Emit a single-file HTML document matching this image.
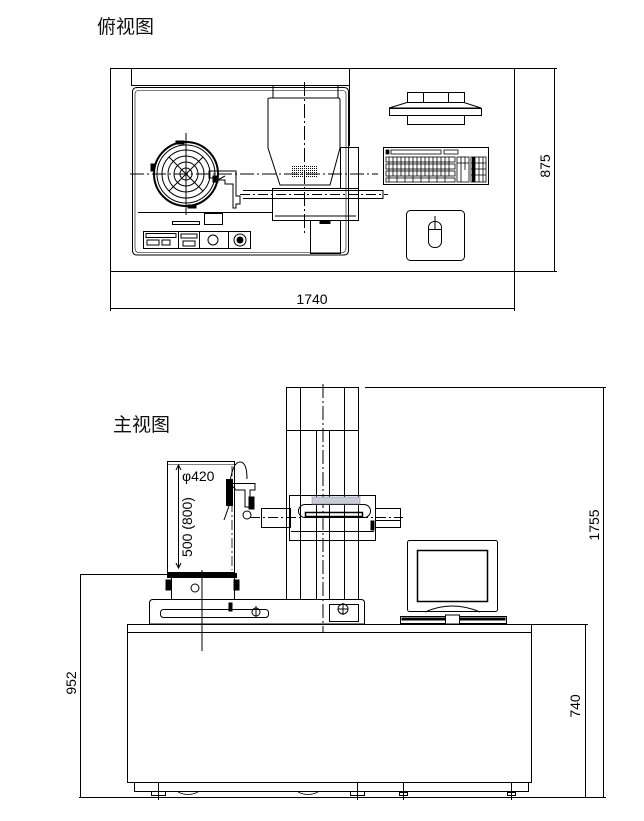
<!DOCTYPE html>
<html><head><meta charset="utf-8"><style>
html,body{margin:0;padding:0;background:#fff;}
svg{display:block;}
text{font-family:"Liberation Sans","Noto Sans CJK SC",sans-serif;}
</style></head><body>
<svg width="644" height="821" viewBox="0 0 644 821" xmlns="http://www.w3.org/2000/svg">
<defs>
<pattern id="mesh" width="2" height="2" patternUnits="userSpaceOnUse"><rect width="1" height="1" fill="#000"/></pattern>
</defs>
<g fill="none" stroke="#000" stroke-width="1">
<!-- ===== TOP VIEW ===== -->
<text x="97" y="33" font-size="19" fill="#111" stroke="none">俯视图</text>
<rect x="110.5" y="68.5" width="404" height="203"/>
<line x1="131.5" y1="68" x2="131.5" y2="86"/>
<line x1="349.5" y1="68" x2="349.5" y2="146"/>
<line x1="131" y1="85.5" x2="350" y2="85.5"/>
<path d="M137,87.5 H344 Q348.5,87.5 348.5,92 V250 Q348.5,255 344,255 H137 Q132.5,255 132.5,250 V92 Q132.5,87.5 137,87.5Z"/>
<path d="M139,90.5 H342 Q346,90.5 346,94 V248 Q346,252.5 342,252.5 H139 Q135,252.5 135,248 V94 Q135,90.5 139,90.5Z" stroke-width="0.6"/>
<!-- dims 1740 -->
<line x1="110.5" y1="271" x2="110.5" y2="311"/>
<line x1="514.5" y1="271" x2="514.5" y2="311"/>
<line x1="110" y1="308.5" x2="515" y2="308.5"/>
<text x="312" y="304" font-size="14" text-anchor="middle" fill="#000" stroke="none">1740</text>
<!-- dims 875 -->
<line x1="514" y1="68.5" x2="557" y2="68.5"/>
<line x1="514" y1="271.5" x2="557" y2="271.5"/>
<line x1="554.5" y1="68" x2="554.5" y2="272"/>
<text x="0" y="0" font-size="14" text-anchor="middle" fill="#000" stroke="none" transform="translate(550,166) rotate(-90)">875</text>
<!-- turntable -->
<circle cx="186" cy="174" r="32" stroke-width="2"/>
<circle cx="186" cy="174" r="29"/>
<circle cx="186" cy="174" r="24"/>
<circle cx="186" cy="174" r="18"/>
<circle cx="186" cy="174" r="12"/>
<circle cx="186" cy="174" r="6"/>
<line x1="169" y1="157" x2="203" y2="191"/><line x1="203" y1="157" x2="169" y2="191"/>
<rect x="176" y="141" width="8" height="3" fill="#000"/>
<rect x="151" y="164" width="3" height="7" fill="#000"/>
<rect x="188" y="205" width="8" height="3" fill="#000"/>
<line x1="130" y1="174" x2="378" y2="174" stroke-dasharray="14,3,2,3"/>
<line x1="186" y1="133" x2="186" y2="215"/>
<path d="M209,171 H236 V196 H240 V204 H236 V208 H233 V184 H225 V180 H214 V178 H209Z"/>
<rect x="213" y="176" width="5" height="6" fill="#000"/>
<line x1="214" y1="182" x2="225" y2="176"/>
<line x1="243" y1="190.5" x2="383" y2="190.5"/><line x1="243" y1="198.5" x2="383" y2="198.5"/>
<line x1="383" y1="190" x2="383" y2="199"/>
<line x1="240" y1="194.5" x2="388" y2="194.5" stroke-dasharray="10,3,2,3"/>
<line x1="138" y1="212.5" x2="272" y2="212.5"/>
<rect x="204.5" y="213.5" width="18" height="11"/>
<rect x="172.5" y="221.5" width="27" height="3"/>
<rect x="143.5" y="231.5" width="107" height="17"/>
<rect x="146" y="233.5" width="30" height="4"/>
<rect x="147" y="240" width="12" height="5"/><rect x="162" y="240" width="8" height="5"/>
<line x1="178.5" y1="232" x2="178.5" y2="248"/><line x1="199.5" y1="232" x2="199.5" y2="248"/><line x1="228.5" y1="232" x2="228.5" y2="248"/>
<rect x="181" y="234" width="16" height="4"/><rect x="183" y="241" width="12" height="5"/>
<circle cx="213" cy="240" r="5"/><circle cx="240" cy="240" r="6"/><circle cx="240" cy="240" r="3" fill="#000"/>
<path d="M268,99 Q268,98 270,98 H338 Q340,98 340,100 V148 L330,185 H280 L268,148Z"/>
<line x1="273" y1="98" x2="273" y2="86"/><line x1="338" y1="98" x2="338" y2="86"/>
<rect x="292" y="166" width="25" height="12" fill="url(#mesh)" stroke="none"/>
<rect x="340.5" y="147.5" width="18" height="41"/>
<rect x="272.5" y="188.5" width="86" height="32"/>
<line x1="275" y1="216" x2="356" y2="216"/>
<rect x="310.5" y="220.5" width="30" height="33"/>
<rect x="320" y="220.5" width="10" height="3" fill="#000"/>
<line x1="304.5" y1="82" x2="304.5" y2="233" stroke-dasharray="14,3,2,3"/>
<rect x="407.5" y="92.5" width="57" height="10"/>
<rect x="423.5" y="92.5" width="25" height="10"/>
<path d="M407,102.5 H464 L481,108 H389Z"/>
<rect x="389.5" y="108.5" width="92" height="7"/>
<rect x="407.5" y="115.5" width="57" height="9"/>
<rect x="383.5" y="147.5" width="105" height="37"/>
<g stroke-width="0.8">
<rect x="386" y="150" width="3" height="4" fill="#000"/>
<rect x="391" y="150" width="50" height="4"/>
<rect x="444" y="150" width="14" height="4"/>
<rect x="386" y="157" width="69" height="5"/>
<rect x="386" y="164" width="69" height="5"/>
<rect x="386" y="171" width="69" height="5"/>
<rect x="386" y="178" width="69" height="4"/>
<rect x="457" y="157" width="12" height="25"/>
<rect x="471" y="157" width="15" height="25"/>
<path d="M389,157 V182 M393,157 V176 M397,157 V182 M401,157 V176 M405,157 V182 M409,157 V176 M413,157 V182 M417,157 V176 M421,157 V182 M425,157 V176 M429,157 V182 M433,157 V176 M437,157 V182 M441,157 V176 M445,157 V182 M449,157 V176"/>
<path d="M461,157 V182 M465,157 V170 M475,157 V182 M479,157 V182 M483,157 V182 M471,163 H486 M471,169 H486 M471,175 H486 M457,163 H469"/>
<rect x="472" y="157" width="3" height="25" fill="#000" stroke="none"/>
</g>
<rect x="406.5" y="210.5" width="58" height="50" rx="4"/>
<rect x="428.5" y="221.5" width="13" height="26" rx="6"/>
<line x1="428.5" y1="229.5" x2="441.5" y2="229.5"/>
<line x1="435" y1="216" x2="435" y2="229"/>

<!-- ===== FRONT VIEW ===== -->
<text x="113" y="431" font-size="19" fill="#111" stroke="none">主视图</text>
<rect x="286.5" y="387.5" width="72" height="212"/>
<line x1="286" y1="430.5" x2="359" y2="430.5"/>
<line x1="300.5" y1="387" x2="300.5" y2="599"/>
<line x1="344.5" y1="387" x2="344.5" y2="599"/>
<line x1="316.5" y1="430" x2="316.5" y2="599"/>
<line x1="329.5" y1="430" x2="329.5" y2="599"/>
<line x1="323" y1="384" x2="323" y2="633" stroke-dasharray="14,3,2,3"/>
<line x1="365" y1="387.5" x2="606" y2="387.5"/>
<line x1="603.5" y1="387" x2="603.5" y2="798"/>
<text x="0" y="0" font-size="14" text-anchor="middle" fill="#000" stroke="none" transform="translate(599,525) rotate(-90)">1755</text>
<rect x="289.5" y="495.5" width="86" height="45"/>
<line x1="291" y1="531.5" x2="374" y2="531.5"/>
<rect x="298.5" y="504.5" width="72" height="13" rx="6.5"/>
<rect x="305.5" y="512.5" width="57" height="4" stroke-width="1.5"/>
<rect x="312" y="497" width="48" height="7" fill="#c8ccd4" stroke="#8a90a0" stroke-width="0.6"/>
<rect x="261.5" y="508.5" width="29" height="19"/>
<rect x="375.5" y="508.5" width="25" height="19"/>
<line x1="375" y1="520.5" x2="400" y2="520.5"/>
<rect x="371" y="521" width="3" height="9" fill="#000"/>
<line x1="250" y1="517.5" x2="403" y2="517.5" stroke-dasharray="10,3,2,3"/>
<path d="M230,483.5 H255 V490 H250 V507 H245 V490 H236 Z"/>
<path d="M230,482 Q233,462 240,462 Q247,462 247,479"/>
<rect x="226.5" y="479.5" width="6" height="26" fill="#000"/>
<line x1="229" y1="506" x2="224" y2="520"/>
<circle cx="247" cy="515" r="4"/>
<rect x="249" y="497" width="5" height="12" fill="#000"/>
<rect x="167.5" y="461.5" width="67" height="111"/>
<line x1="178.5" y1="465" x2="178.5" y2="568"/>
<path d="M176,470 L178.5,465 L181,470 M176,563 L178.5,568 L181,563"/>
<line x1="168" y1="464.5" x2="234" y2="464.5" stroke-width="0.6"/>
<text x="182" y="481" font-size="14" fill="#000" stroke="none">φ420</text>
<text x="0" y="0" font-size="14" text-anchor="middle" fill="#000" stroke="none" transform="translate(192,527) rotate(-90)">500 (800)</text>
<line x1="232" y1="466" x2="232" y2="570" stroke-dasharray="10,3,2,3" stroke-width="0.8"/>
<rect x="167.5" y="573.5" width="69" height="4" fill="#000"/>
<rect x="171.5" y="577.5" width="63" height="22"/>
<rect x="166" y="580" width="5" height="10" fill="#000"/>
<rect x="234" y="580" width="5" height="10" fill="#000"/>
<circle cx="195" cy="588" r="4"/>
<line x1="202" y1="570" x2="202" y2="651"/>
<path d="M153,599.5 H361 Q364.5,599.5 364.5,603 V624 H149.5 V603 Q149.5,599.5 153,599.5Z"/>
<rect x="160.5" y="609.5" width="108" height="8" rx="3"/>
<rect x="229" y="603" width="3" height="8" fill="#000"/>
<circle cx="256" cy="612" r="4"/><line x1="256" y1="606" x2="256" y2="618"/>
<rect x="329.5" y="604.5" width="29" height="17"/>
<circle cx="343" cy="609" r="5"/><line x1="338" y1="609" x2="348" y2="609"/><line x1="343" y1="603" x2="343" y2="615"/>
<rect x="407.5" y="540.5" width="90" height="71" rx="2"/>
<rect x="417.5" y="550.5" width="70" height="51" stroke-width="1.5"/>
<path d="M425,612 Q452,600 480,612"/>
<rect x="400.5" y="616.5" width="106" height="7"/>
<rect x="402" y="618" width="103" height="2" fill="#000"/>
<rect x="445.5" y="615" width="14" height="9" fill="#fff"/>
<rect x="127.5" y="624.5" width="404" height="8"/>
<rect x="127.5" y="632.5" width="404" height="150"/>
<rect x="134.5" y="782.5" width="394" height="9"/>
<line x1="158.5" y1="782" x2="158.5" y2="800"/>
<line x1="357.5" y1="782" x2="357.5" y2="800"/>
<line x1="403.5" y1="782" x2="403.5" y2="800"/>
<line x1="511.5" y1="782" x2="511.5" y2="800"/>
<rect x="151.5" y="791.5" width="14" height="4"/>
<rect x="350.5" y="791.5" width="14" height="4"/>
<rect x="399.5" y="792.5" width="8" height="3"/>
<rect x="507.5" y="792.5" width="8" height="3"/>
<path d="M178,792 Q188,797 198,792 M298,792 Q308,797 318,792" stroke-width="0.7"/>
<line x1="79" y1="797.5" x2="606" y2="797.5"/>
<line x1="80.5" y1="574" x2="80.5" y2="798"/>
<line x1="80" y1="574.5" x2="168" y2="574.5"/>
<text x="0" y="0" font-size="14" text-anchor="middle" fill="#000" stroke="none" transform="translate(76,683) rotate(-90)">952</text>
<line x1="531" y1="624.5" x2="588" y2="624.5"/>
<line x1="585.5" y1="624" x2="585.5" y2="798"/>
<text x="0" y="0" font-size="14" text-anchor="middle" fill="#000" stroke="none" transform="translate(580,706) rotate(-90)">740</text>
</g>
</svg>
</body></html>
